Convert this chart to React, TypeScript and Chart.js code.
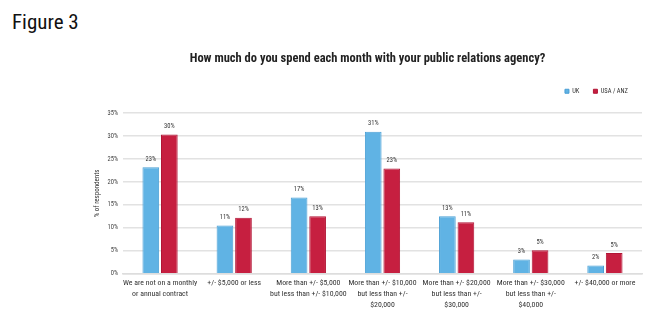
import React, { useEffect, useRef } from "react";
import { Chart, registerables } from "chart.js";

Chart.register(...registerables);

const FONT = "'Roboto Condensed', 'Roboto', sans-serif";

const figureLabel = "Figure 3";
const chartTitle = "How much do you spend each month with your public relations agency?";
const yAxisTitle = "% of respondents";

const categories: string[][] = [
  ["We are not on a monthly", "or annual contract"],
  ["+/- $5,000 or less"],
  ["More than +/- $5,000", "but less than +/- $10,000"],
  ["More than +/- $10,000", "but less than +/-", "$20,000"],
  ["More than +/- $20,000", "but less than +/-", "$30,000"],
  ["More than +/- $30,000", "but less than +/-", "$40,000"],
  ["+/- $40,000 or more"],
];

const seriesNames = ["UK", "USA / ANZ"];
const ukValues = [23.2, 10.5, 16.6, 30.9, 12.5, 3.1, 1.8];
const usaValues = [30.3, 12.2, 12.5, 22.9, 11.2, 5.1, 4.5];

const yMin = 0;
const yMax = 35;
const yStep = 5;

const UK_COLOR = "#60b3e4";
const UK_BORDER = "#4a9fd5";
const USA_COLOR = "#c61f40";
const USA_BORDER = "#b11535";

const LEGEND_BOX_HEIGHT = 39;

const legendHeightPlugin = {
  id: "legendHeight",
  beforeInit(chart: any) {
    const legend = chart.legend;
    if (!legend) return;
    const origFit = legend.fit;
    legend.fit = function () {
      origFit.call(this);
      this.height = LEGEND_BOX_HEIGHT;
    };
  },
};

const valueLabelPlugin = {
  id: "valueLabels",
  afterDatasetsDraw(chart: any) {
    const ctx = chart.ctx;
    ctx.save();
    ctx.font = `6.5px ${FONT}`;
    ctx.fillStyle = "#333";
    ctx.textAlign = "center";
    ctx.textBaseline = "middle";
    chart.data.datasets.forEach((ds: any, di: number) => {
      const meta = chart.getDatasetMeta(di);
      meta.data.forEach((bar: any, i: number) => {
        const v = ds.data[i];
        ctx.fillText(Math.round(v) + "%", bar.x, bar.y - 8);
      });
    });
    ctx.restore();
  },
};

export default function App() {
  const canvasRef = useRef<HTMLCanvasElement | null>(null);

  useEffect(() => {
    if (!canvasRef.current) return;
    const chart = new Chart(canvasRef.current, {
      type: "bar",
      data: {
        labels: categories,
        datasets: [
          {
            label: seriesNames[0],
            data: ukValues,
            backgroundColor: UK_COLOR,
            borderColor: UK_BORDER,
            borderWidth: 1,
            categoryPercentage: 0.5,
            barPercentage: 0.9,
          },
          {
            label: seriesNames[1],
            data: usaValues,
            backgroundColor: USA_COLOR,
            borderColor: USA_BORDER,
            borderWidth: 1,
            categoryPercentage: 0.5,
            barPercentage: 0.9,
          },
        ],
      },
      options: {
        responsive: false,
        animation: false,
        layout: { padding: { left: 93, right: 8, top: 51, bottom: 13 } },
        plugins: {
          title: {
            display: true,
            text: chartTitle,
            color: "#222",
            font: { family: FONT, size: 12.5, weight: "bold" },
            padding: { top: 0, bottom: 8 },
          },
          legend: {
            display: true,
            position: "top",
            align: "end",
            labels: {
              usePointStyle: true,
              pointStyle: "rect",
              boxWidth: 4,
              boxHeight: 4,
              padding: 14,
              color: "#333",
              font: { family: FONT, size: 6.5 },
            },
          },
          tooltip: { enabled: false },
        },
        scales: {
          x: {
            grid: { display: false, drawTicks: false },
            border: { display: true, color: "#ddd", width: 1.5 },
            ticks: {
              color: "#333",
              font: { family: FONT, size: 7.8, lineHeight: 1.42 },
              padding: 4,
              maxRotation: 0,
              autoSkip: false,
            },
          },
          y: {
            min: yMin,
            max: yMax,
            afterFit: (scale: any) => {
              scale.width = 30;
            },
            ticks: {
              stepSize: yStep,
              color: "#444",
              font: { family: FONT, size: 6.5 },
              padding: 5,
              callback: (v: any) => v + "%",
            },
            grid: { color: "#e2e2e2", lineWidth: 1.5, drawTicks: false },
            border: { display: false },
            title: {
              display: true,
              text: yAxisTitle,
              color: "#333",
              font: { family: FONT, size: 7 },
              padding: { top: 0, bottom: 4 },
            },
          },
        },
      },
      plugins: [legendHeightPlugin, valueLabelPlugin],
    });
    return () => chart.destroy();
  }, []);

  return (
    <div style={{ position: "absolute", left: 0, top: 0, width: 650, height: 328, background: "#fff" }}>
      <div
        style={{
          position: "absolute",
          left: 12,
          top: 10,
          fontFamily: FONT,
          fontSize: 21,
          color: "#111",
        }}
      >
        {figureLabel}
      </div>
      <canvas ref={canvasRef} width={650} height={328} style={{ position: "absolute", left: 0, top: 0 }} />
    </div>
  );
}
